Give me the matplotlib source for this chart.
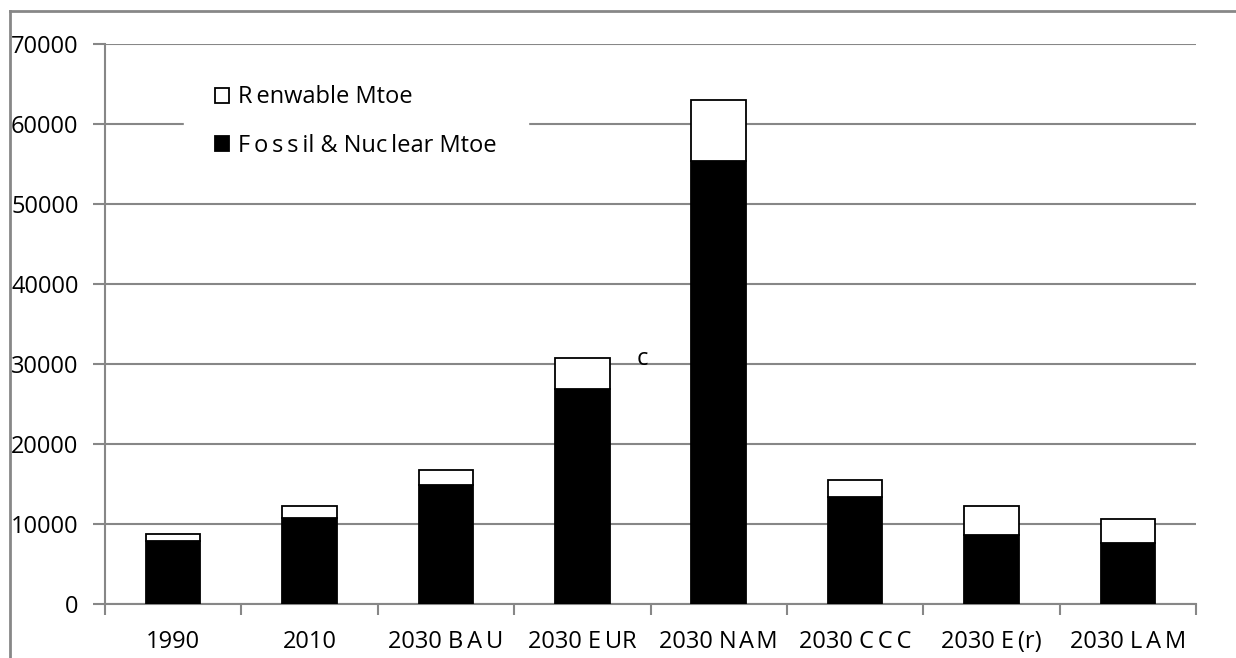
import matplotlib
matplotlib.use("Agg")
import matplotlib.pyplot as plt
from matplotlib.lines import Line2D
from matplotlib.patches import Patch

T = "\u2009"  # thin space used for the letter spacing seen in the original
H = "\u200a"  # hair space
categories = ["1990", "2010", "2030 B" + T + "A" + T + "U", "2030 E" + T + "UR", "2030 N" + H + "A" + H + "M",
              "2030 C" + T + "C" + T + "C", "2030 E" + T + "(r)", "2030 L" + T + "A" + T + "M"]
fossil = [7900, 10800, 14900, 26900, 55400, 13400, 8600, 7600]
total = [8800, 12300, 16800, 30800, 63000, 15500, 12300, 10600]
renewable = [t - f for t, f in zip(total, fossil)]
yticks = [0, 10000, 20000, 30000, 40000, 50000, 60000, 70000]
legend_labels = ["R" + T + "enwable Mtoe", "F" + T + "o" + T + "s" + T + "s" + T + "il & Nuc" + T + "lear Mtoe"]

plt.rcParams['font.family'] = ['Open Sans', 'DejaVu Sans']
grey = "#878787"
FS = 17

fig = plt.figure(figsize=(12.36, 6.58), dpi=100)
ax = fig.add_axes([105/1236, 1-604/658, (1196-105)/1236, (604-44)/658])

x = list(range(len(categories)))
ax.bar(x, fossil, width=0.4, color="black", edgecolor="black", linewidth=1.3, zorder=3)
ax.bar(x, renewable, bottom=fossil, width=0.4, color="white", edgecolor="black", linewidth=1.3, zorder=3)

ax.set_xlim(-0.5, len(categories) - 0.5)
ax.set_ylim(0, 70000)
ax.set_yticks(yticks)
ax.set_yticklabels([str(v) for v in yticks], fontsize=FS)
ax.yaxis.grid(True, color=grey, linewidth=1.5, zorder=0)
ax.set_axisbelow(True)

ax.set_xticks([i + 0.5 for i in range(-1, len(categories))], minor=False)
ax.set_xticklabels([])
ax.set_xticks(x, minor=True)
ax.set_xticklabels(categories, minor=True, fontsize=FS)
ax.tick_params(axis='x', which='major', length=8, width=1.5, color=grey, direction='out')
ax.tick_params(axis='x', which='minor', length=0, pad=19)
ax.tick_params(axis='y', length=9, width=1.5, color=grey, direction='out', pad=10)

for s in ["top", "right"]:
    ax.spines[s].set_visible(False)
for s in ["left", "bottom"]:
    ax.spines[s].set_color(grey)
    ax.spines[s].set_linewidth(1.5)

handles = [Patch(facecolor="white", edgecolor="black", linewidth=1.3),
           Patch(facecolor="black", edgecolor="black", linewidth=1.3)]
leg = ax.legend(handles, legend_labels, loc="upper left", bbox_to_anchor=(0.0724, 0.981),
                frameon=True, fontsize=FS, handlelength=0.6, handleheight=0.6,
                handletextpad=0.4, labelspacing=1.05, borderpad=1.3, borderaxespad=0,
                fancybox=False)
leg.get_frame().set_edgecolor("white")
leg.get_frame().set_facecolor("white")
leg.get_frame().set_alpha(1)
leg.set_zorder(5)

ax.text(3.44, 29900, "c", fontsize=FS, ha="center", va="baseline", zorder=4)

# outer chart border
fig.add_artist(Line2D([10/1236, 1.0], [1-11/658, 1-11/658], color=grey, linewidth=2))
fig.add_artist(Line2D([10/1236, 10/1236], [0.0, 1-11/658], color=grey, linewidth=2))

fig.savefig("out.png", dpi=100)
